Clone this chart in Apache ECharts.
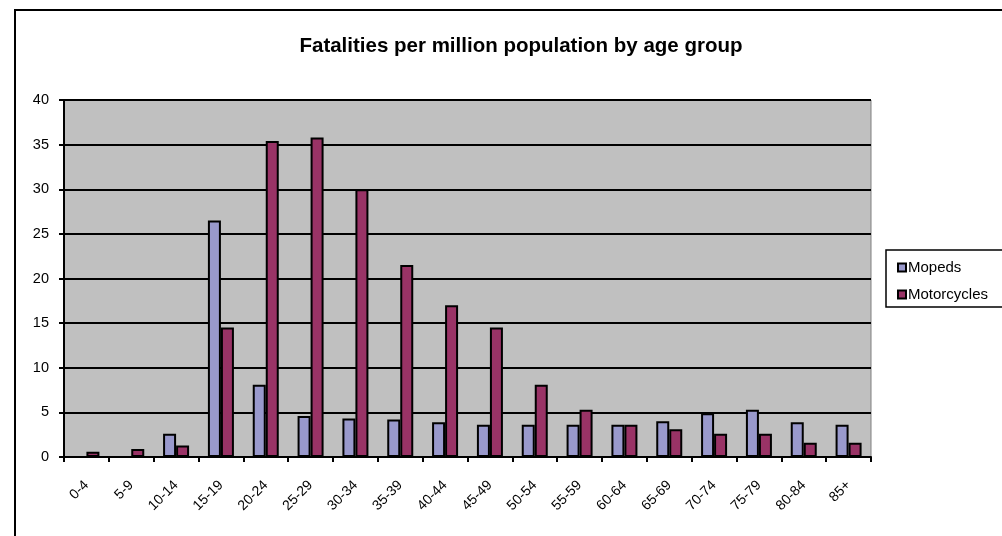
<!DOCTYPE html>
<html>
<head>
<meta charset="utf-8">
<script src="https://cdn.jsdelivr.net/npm/echarts@6/dist/echarts.min.js"></script>
<style>
html,body{margin:0;padding:0;background:#fff;}
#chart{width:1002px;height:536px;}
</style>
</head>
<body>
<div id="chart"></div>
<script>
const categories = ['0-4','5-9','10-14','15-19','20-24','25-29','30-34','35-39','40-44','45-49','50-54','55-59','60-64','65-69','70-74','75-79','80-84','85+'];
const mopeds = [0, 0, 2.6, 26.5, 8.1, 4.6, 4.3, 4.2, 3.9, 3.6, 3.6, 3.6, 3.6, 4.0, 4.9, 5.3, 3.9, 3.6];
const motorcycles = [0.6, 0.9, 1.3, 14.5, 35.4, 35.8, 30.0, 21.5, 17.0, 14.5, 8.1, 5.3, 3.6, 3.1, 2.6, 2.6, 1.6, 1.6];
const seriesNames = ['Mopeds', 'Motorcycles'];
const titleText = 'Fatalities per million population by age group';

const FONT = '"Liberation Sans", Arial, sans-serif';
const chart = echarts.init(document.getElementById('chart'), null, {renderer: 'canvas'});
chart.setOption({
  animation: false,
  backgroundColor: '#fff',
  textStyle: {fontFamily: FONT},
  graphic: [{
    type: 'rect', z: -1, silent: true,
    shape: {x: 15, y: 10, width: 1100, height: 700},
    style: {fill: 'none', stroke: '#000', lineWidth: 2}
  }],
  title: {
    text: titleText, left: 516, top: 31, textAlign: 'center',
    textStyle: {fontFamily: FONT, fontSize: 20.5, fontWeight: 'bold', color: '#000'}
  },
  legend: {
    orient: 'vertical', left: 886, top: 250,
    padding: [9, 40, 4, 11],
    itemGap: 10,
    itemWidth: 8, itemHeight: 8,
    icon: 'rect',
    backgroundColor: '#fff', borderColor: '#000', borderWidth: 1.5,
    textStyle: {fontFamily: FONT, fontSize: 15, color: '#000', padding: [0, 0, 0, -3], lineHeight: 17},
    itemStyle: {borderColor: '#000', borderWidth: 2},
    data: seriesNames
  },
  grid: {
    left: 64, right: 131, top: 100, bottom: 79,
    show: true, backgroundColor: '#C0C0C0', borderColor: '#808080', borderWidth: 1
  },
  xAxis: {
    type: 'category', data: categories,
    axisLine: {lineStyle: {color: '#000', width: 2}},
    axisTick: {show: true, length: 5, lineStyle: {color: '#000', width: 2}},
    axisLabel: {rotate: 45, fontFamily: FONT, fontSize: 14, color: '#000', margin: 26, interval: 0, padding: [0, 0, 0, 0]}
  },
  yAxis: {
    type: 'value', min: 0, max: 40, interval: 5,
    axisLine: {show: true, lineStyle: {color: '#000', width: 2}},
    axisTick: {show: true, length: 5, lineStyle: {color: '#000', width: 2}},
    axisLabel: {fontFamily: FONT, fontSize: 14.5, color: '#000', margin: 15},
    splitLine: {show: true, lineStyle: {color: '#000', width: 2}}
  },
  series: [
    {
      name: seriesNames[0], type: 'bar', data: mopeds,
      barGap: '0%', barCategoryGap: '42%',
      itemStyle: {color: '#9999CC', borderColor: '#000', borderWidth: 2}
    },
    {
      name: seriesNames[1], type: 'bar', data: motorcycles,
      itemStyle: {color: '#993366', borderColor: '#000', borderWidth: 2}
    }
  ]
});
</script>
</body>
</html>
